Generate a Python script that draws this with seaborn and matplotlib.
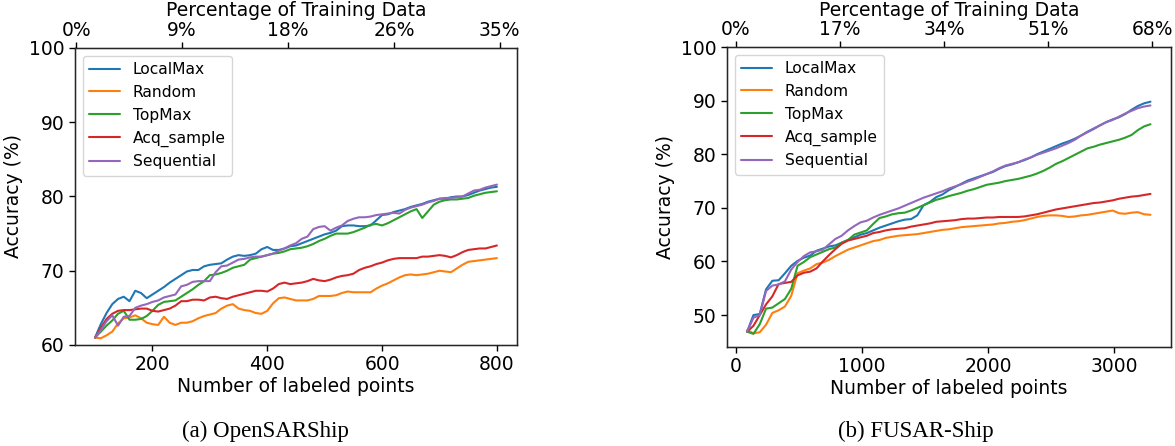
import numpy as np
import pandas as pd
import matplotlib
matplotlib.use("Agg")
import matplotlib.pyplot as plt
import seaborn as sns

methods = ['LocalMax', 'Random', 'TopMax', 'Acq_sample', 'Sequential']
colors = ['#1f77b4', '#ff7f0e', '#2ca02c', '#d62728', '#9467bd']

# (a) OpenSARShip, 100..800 labeled points
x_sar = np.arange(100, 801, 10)
sar_localmax = [61.0, 62.8, 64.3, 65.5, 66.2, 66.5, 65.9, 67.3, 67.0, 66.3,
                66.8, 67.3, 67.8, 68.4, 68.9, 69.4, 69.9, 70.1, 70.1, 70.6,
                70.8, 70.9, 71.0, 71.5, 71.9, 72.1, 72.0, 72.1, 72.3, 72.9,
                73.2, 72.8, 72.8, 73.0, 73.3, 73.4, 73.7, 74.0, 74.3, 74.6,
                74.9, 75.1, 75.4, 76.0, 76.1, 76.1, 76.0, 76.0, 76.1, 76.8,
                77.5, 77.6, 77.9, 78.1, 78.3, 78.6, 78.8, 79.0, 79.3, 79.5,
                79.7, 79.7, 79.9, 80.0, 80.0, 80.2, 80.5, 80.8, 81.0, 81.2,
                81.3]
sar_random = [61.0, 60.9, 61.3, 61.8, 62.9, 63.6, 63.7, 64.0, 63.6, 63.0,
              62.8, 62.7, 63.8, 63.0, 62.7, 63.0, 63.0, 63.2, 63.6, 63.9,
              64.1, 64.3, 64.9, 65.3, 65.5, 64.9, 64.7, 64.6, 64.3, 64.2,
              64.6, 65.6, 66.3, 66.4, 66.2, 66.0, 66.0, 66.0, 66.2, 66.6,
              66.6, 66.6, 66.7, 67.0, 67.2, 67.1, 67.1, 67.1, 67.1, 67.6,
              68.0, 68.3, 68.7, 69.1, 69.4, 69.5, 69.4, 69.5, 69.6, 69.8,
              70.0, 69.9, 69.8, 70.3, 70.8, 71.2, 71.3, 71.4, 71.5, 71.6,
              71.7]
sar_topmax = [61.0, 61.8, 62.6, 63.3, 64.2, 64.6, 63.4, 63.4, 63.5, 63.9,
              64.6, 65.4, 65.8, 65.9, 66.0, 66.5, 67.0, 67.5, 68.1, 68.6,
              69.4, 69.5, 69.7, 70.0, 70.4, 70.6, 70.8, 71.5, 71.7, 71.9,
              72.1, 72.3, 72.4, 72.6, 72.9, 73.0, 73.1, 73.3, 73.6, 74.0,
              74.3, 74.7, 75.0, 75.0, 75.0, 75.2, 75.5, 75.8, 76.2, 76.3,
              76.1, 76.4, 76.8, 77.2, 77.6, 78.0, 78.3, 77.1, 78.0, 78.9,
              79.3, 79.5, 79.6, 79.6, 79.7, 79.8, 80.1, 80.3, 80.5, 80.6,
              80.7]
sar_acq = [61.0, 62.3, 63.5, 64.2, 64.6, 64.7, 64.7, 64.8, 64.9, 64.9,
           64.6, 64.5, 64.7, 64.9, 65.3, 65.9, 65.9, 66.1, 66.1, 66.0,
           66.4, 66.5, 66.3, 66.2, 66.5, 66.7, 66.9, 67.1, 67.3, 67.3,
           67.2, 67.6, 68.2, 68.4, 68.2, 68.3, 68.4, 68.6, 68.9, 68.7,
           68.6, 68.8, 69.1, 69.3, 69.4, 69.6, 70.1, 70.4, 70.6, 70.9,
           71.1, 71.4, 71.6, 71.7, 71.7, 71.7, 71.7, 71.9, 71.9, 72.0,
           72.1, 72.0, 71.8, 72.1, 72.5, 72.8, 72.9, 73.0, 73.0, 73.2,
           73.4]
sar_seq = [61.0, 62.0, 63.2, 64.0, 62.6, 63.8, 63.9, 65.0, 65.3, 65.5,
           65.8, 66.0, 66.4, 66.6, 66.8, 67.9, 68.1, 68.5, 68.6, 68.6,
           68.6, 69.8, 70.6, 70.7, 71.1, 71.5, 71.6, 71.8, 71.9, 71.9,
           72.1, 72.3, 72.7, 73.0, 73.4, 73.7, 74.3, 74.6, 75.6, 75.9,
           76.0, 75.4, 75.8, 76.1, 76.7, 77.0, 77.2, 77.2, 77.3, 77.5,
           77.6, 77.7, 77.8, 77.7, 78.2, 78.5, 78.7, 78.9, 79.2, 79.4,
           79.7, 79.8, 79.8, 79.9, 80.0, 80.4, 80.8, 80.9, 81.2, 81.4,
           81.6]

# (b) FUSAR-Ship, 90..3290 labeled points
x_fusar = np.arange(90, 3291, 50)
fusar_localmax = [46.9, 50.0, 50.2, 54.8, 56.4, 56.5, 57.8, 59.2, 60.1, 60.7,
                  61.1, 62.0, 62.4, 62.8, 63.0, 63.5, 64.0, 64.5, 65.0, 65.3,
                  65.8, 66.3, 66.7, 67.1, 67.5, 67.8, 67.9, 68.6, 70.5, 71.1,
                  72.0, 72.5, 73.3, 73.9, 74.5, 75.1, 75.5, 75.9, 76.3, 76.7,
                  77.3, 77.8, 78.1, 78.5, 78.9, 79.4, 80.0, 80.5, 81.0, 81.5,
                  82.0, 82.4, 82.9, 83.5, 84.2, 84.8, 85.4, 86.0, 86.5, 86.9,
                  87.5, 88.3, 89.0, 89.5, 89.8]
fusar_random = [47.2, 46.6, 46.8, 48.2, 50.4, 50.9, 51.6, 53.6, 57.8, 58.3,
                58.7, 59.5, 59.8, 60.3, 61.0, 61.6, 62.2, 62.6, 63.0, 63.4,
                63.8, 64.0, 64.4, 64.6, 64.8, 64.9, 65.0, 65.1, 65.3, 65.5,
                65.7, 65.9, 66.0, 66.2, 66.4, 66.5, 66.6, 66.7, 66.8, 66.9,
                67.1, 67.2, 67.4, 67.5, 67.7, 68.0, 68.3, 68.5, 68.6, 68.6,
                68.5, 68.3, 68.4, 68.6, 68.7, 68.9, 69.1, 69.3, 69.5, 69.0,
                68.9, 69.1, 69.2, 68.8, 68.7]
fusar_topmax = [46.9, 46.5, 48.3, 51.2, 51.4, 52.2, 53.0, 54.9, 59.2, 59.9,
                60.8, 61.3, 61.8, 62.3, 62.6, 63.5, 64.0, 65.0, 65.4, 65.8,
                67.0, 68.1, 68.4, 68.8, 69.0, 69.1, 69.5, 70.0, 70.5, 71.0,
                71.5, 71.8, 72.2, 72.5, 72.8, 73.2, 73.5, 73.9, 74.3, 74.5,
                74.7, 75.0, 75.2, 75.4, 75.7, 76.0, 76.4, 76.9, 77.5, 78.2,
                78.7, 79.3, 79.9, 80.5, 81.1, 81.4, 81.8, 82.1, 82.4, 82.7,
                83.1, 83.6, 84.5, 85.2, 85.6]
fusar_acq = [46.9, 48.0, 50.0, 52.0, 53.5, 55.8, 56.0, 56.2, 57.4, 57.9,
             58.1, 58.7, 60.0, 61.2, 62.3, 63.3, 63.9, 64.2, 64.5, 64.8,
             65.3, 65.5, 65.8, 66.0, 66.1, 66.2, 66.5, 66.7, 66.9, 67.1,
             67.4, 67.5, 67.6, 67.7, 67.9, 68.0, 68.0, 68.1, 68.2, 68.2,
             68.3, 68.3, 68.3, 68.3, 68.4, 68.6, 68.8, 69.1, 69.4, 69.7,
             69.9, 70.1, 70.3, 70.5, 70.7, 70.9, 71.0, 71.2, 71.4, 71.7,
             71.9, 72.1, 72.2, 72.4, 72.6]
fusar_seq = [46.9, 49.5, 50.0, 54.5, 55.5, 55.7, 56.3, 58.5, 59.9, 61.0,
             61.7, 61.9, 62.2, 63.2, 64.2, 64.8, 65.8, 66.6, 67.3, 67.6,
             68.2, 68.7, 69.1, 69.5, 69.9, 70.4, 70.9, 71.4, 71.9, 72.3,
             72.7, 73.1, 73.6, 74.0, 74.4, 74.9, 75.3, 75.8, 76.3, 76.8,
             77.4, 77.9, 78.2, 78.5, 79.0, 79.4, 79.9, 80.3, 80.7, 81.1,
             81.6, 82.1, 82.7, 83.5, 84.1, 84.7, 85.4, 86.0, 86.4, 87.0,
             87.6, 88.1, 88.6, 88.9, 89.1]

# top axis (percentage of training data)
sar_pct_pos = [67, 251, 436, 621, 805]
sar_pct_labels = ['0%', '9%', '18%', '26%', '35%']
fusar_pct_pos = [0, 826, 1652, 2478, 3304]
fusar_pct_labels = ['0%', '17%', '34%', '51%', '68%']


def to_long(x, series):
    frames = []
    for name, vals in zip(methods, series):
        frames.append(pd.DataFrame({'points': x, 'acc': vals, 'method': name}))
    return pd.concat(frames, ignore_index=True)


sns.set_style("ticks")
plt.rcParams['font.family'] = ['DejaVu Sans']
plt.rcParams['text.color'] = 'black'
plt.rcParams['axes.labelcolor'] = 'black'
plt.rcParams['xtick.color'] = 'black'
plt.rcParams['ytick.color'] = 'black'

fig = plt.figure(figsize=(11.75, 4.46), dpi=100)
ax1 = fig.add_axes([0.0638, 0.2265, 0.3762, 0.6659])
ax2 = fig.add_axes([0.6187, 0.2226, 0.3776, 0.6720])

panels = [
    (ax1, to_long(x_sar, [sar_localmax, sar_random, sar_topmax, sar_acq, sar_seq]),
     (60, 100), [60, 70, 80, 90, 100], sar_pct_pos, sar_pct_labels),
    (ax2, to_long(x_fusar, [fusar_localmax, fusar_random, fusar_topmax, fusar_acq, fusar_seq]),
     (44.1, 100), [50, 60, 70, 80, 90, 100], fusar_pct_pos, fusar_pct_labels),
]

for ax, df, ylim, yticks, pct_pos, pct_labels in panels:
    sns.lineplot(data=df, x='points', y='acc', hue='method', hue_order=methods,
                 palette=colors, linewidth=1.5, estimator=None, ax=ax)
    ax.set_ylim(*ylim)
    ax.set_yticks(yticks)
    ax.set_xlabel('Number of labeled points', fontsize=13.5, labelpad=2)
    ax.set_ylabel('Accuracy (%)', fontsize=13.5)
    ax.tick_params(labelsize=13.5, length=4.5, width=1, pad=3)
    for s in ax.spines.values():
        s.set_linewidth(1.0)
        s.set_color('black')
    leg = ax.legend(loc='upper left', fontsize=11.2, frameon=True)
    leg.set_title(None)

    top = ax.twiny()
    top.set_xlim(ax.get_xlim())
    top.set_xticks(pct_pos)
    top.set_xticklabels(pct_labels)
    top.tick_params(labelsize=13.5, length=4.5, width=1, pad=1.5)
    top.set_xlabel('Percentage of Training Data', fontsize=13.5, labelpad=3)

ax1.set_xticks([200, 400, 600, 800])
ax2.set_xticks([0, 1000, 2000, 3000])

fig.text(265 / 1175, 1 - 431 / 446, '(a) OpenSARShip', ha='center', va='center',
         fontsize=16.5, family='Liberation Serif')
fig.text(916 / 1175, 1 - 431 / 446, '(b) FUSAR-Ship', ha='center', va='center',
         fontsize=16.5, family='Liberation Serif')

fig.savefig('out.png', dpi=100)
